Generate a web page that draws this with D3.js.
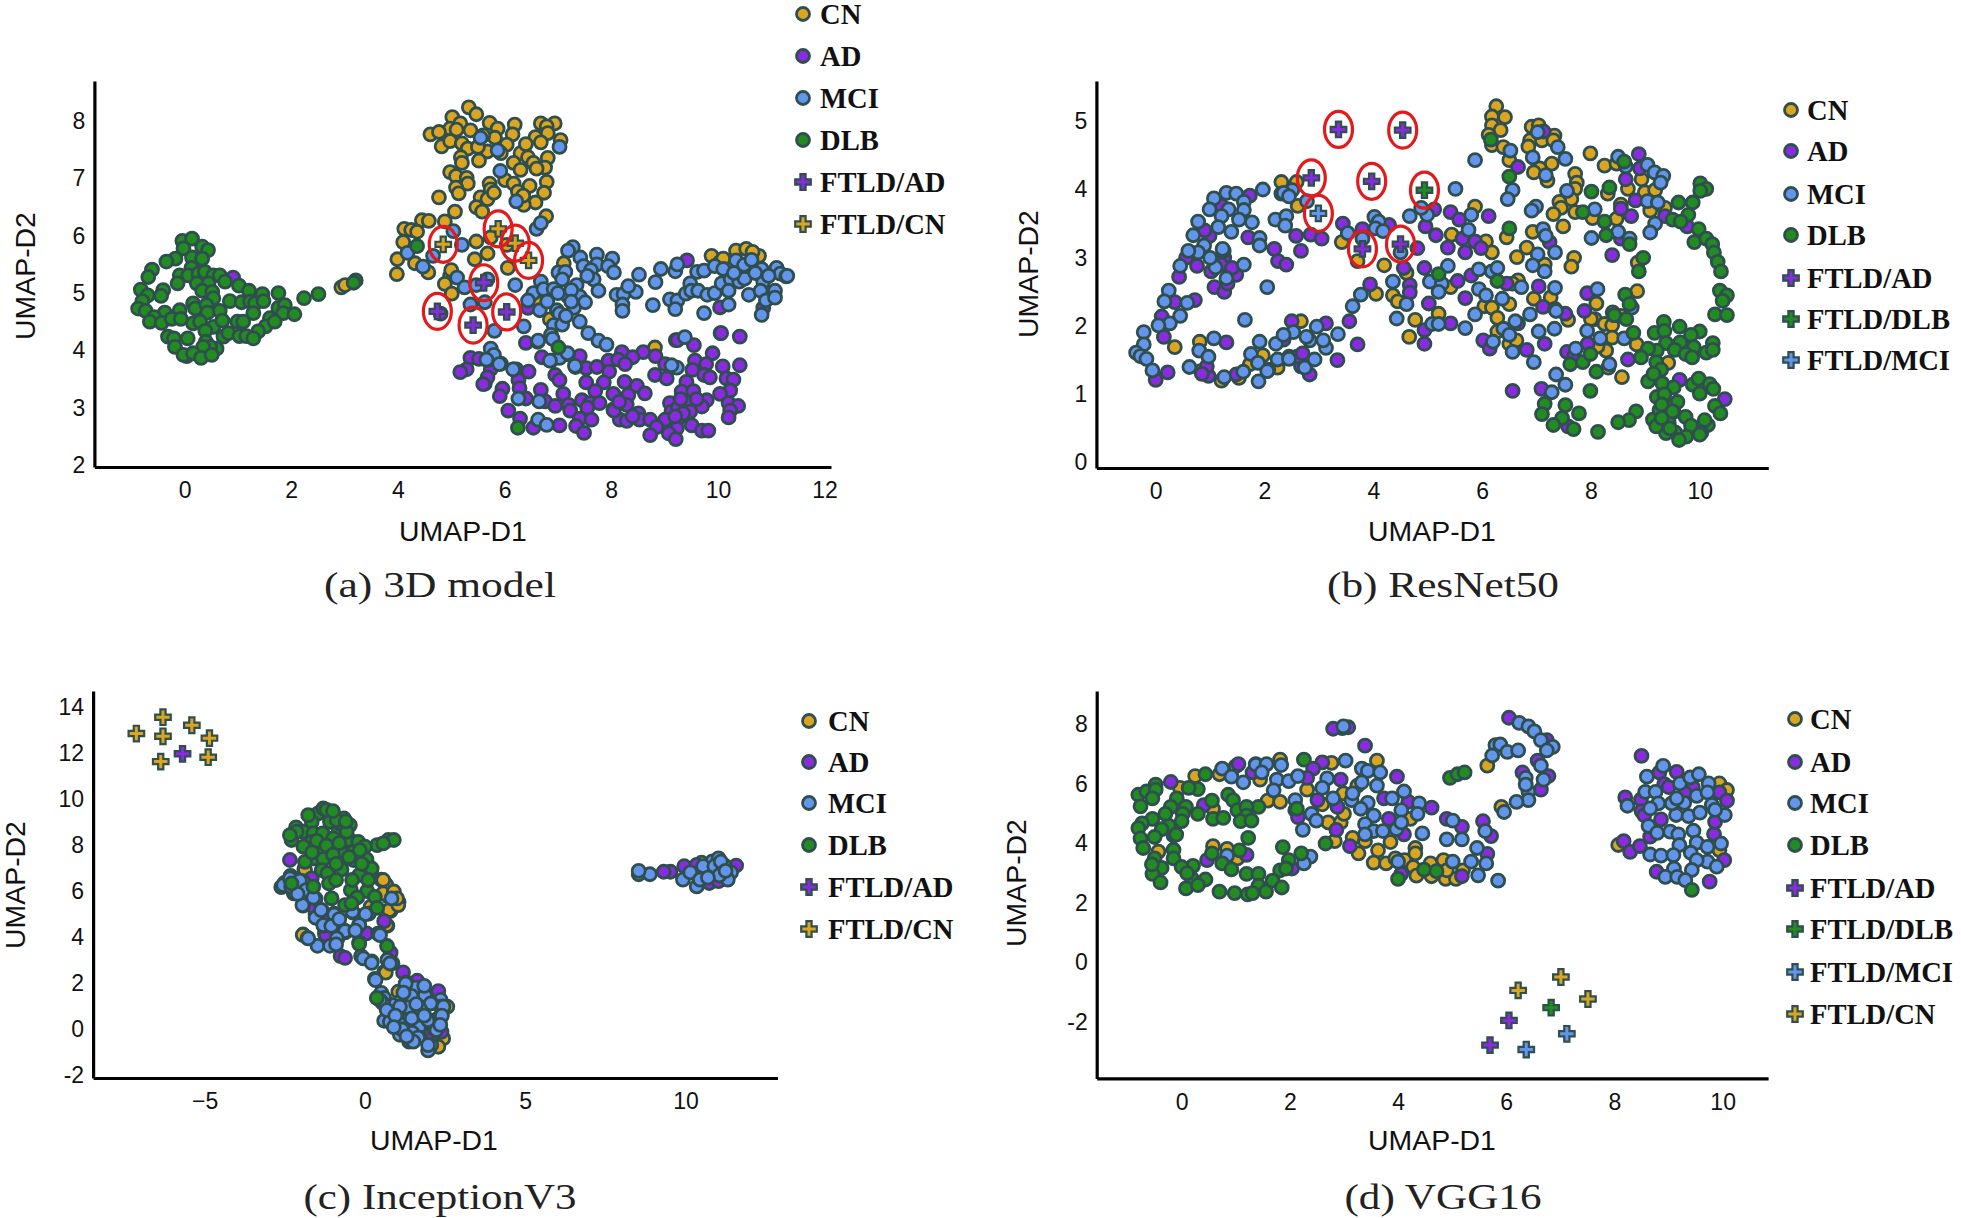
<!DOCTYPE html>
<html><head><meta charset="utf-8">
<script src="https://cdn.jsdelivr.net/npm/d3@7/dist/d3.min.js"></script>
<style>html,body{margin:0;padding:0;background:#fff}svg{display:block}</style>
</head><body><svg id="c" width="1961" height="1218"></svg>
<script>
const colors={CN:"#daa520",AD:"#8a2be2",MCI:"#6495ed",DLB:"#228b22"};
const aCN=[[5.33,8.24],[5.47,8.12],[5.02,8.07],[5.17,7.96],[4.98,7.87],[5.72,7.97],[6.19,7.94],[6.68,7.96],[6.94,7.96],[6.79,7.91],[5.87,7.87],[4.61,7.77],[4.77,7.81],[5.36,7.84],[6.15,7.77],[5.82,7.71],[6.58,7.72],[6.81,7.79],[6.68,7.63],[7.05,7.67],[4.82,7.56],[4.98,7.65],[5.2,7.61],[5.31,7.52],[5.68,7.47],[6.04,7.59],[5.18,7.37],[5.2,7.27],[5.52,7.31],[5.93,7.44],[6.3,7.44],[6.44,7.37],[6.81,7.36],[6.17,7.27],[6.54,7.27],[6.76,7.19],[6.6,7.17],[4.98,7.11],[5.09,7.04],[5.29,7.01],[5.31,6.91],[5.09,6.84],[5.14,6.74],[5.72,6.91],[5.74,6.81],[6.01,6.97],[6.17,6.91],[6.79,6.94],[6.47,6.87],[4.77,6.67],[5.55,6.67],[5.68,6.64],[6.25,6.77],[6.74,6.75],[6.58,6.58],[6.36,6.54],[5.47,6.5],[5.58,6.42],[5.07,6.42],[6.78,6.34],[4.45,6.27],[4.58,6.26],[4.88,6.25],[4.12,6.12],[4.25,6.1],[4.36,6.07],[4.1,5.89],[5.47,5.9],[5.74,5.97],[6.04,5.84],[5.68,5.69],[5.44,5.59],[3.99,5.59],[4.32,5.52],[3.98,5.33],[4.57,5.36],[4.98,5.3],[4.88,5.16],[5.01,4.99],[7.11,5.52],[6.06,5.44],[2.94,5.1],[3.01,5.14],[9.88,5.65],[10.34,5.74],[10.53,5.77],[10.77,5.65],[10.04,5.54],[8.82,4.05],[6.85,4.54],[6.6,4.84],[6.22,3.67],[5.1,7.85],[5.6,7.75],[6.4,7.6],[5.5,7.55],[6.3,7.15],[5.8,6.75],[6.35,6.7],[5.0,5.4],[10.1,5.6],[10.65,5.72]];
const aAD=[[10.05,4.3],[10.41,4.24],[9.21,4.18],[9.55,4.09],[6.4,4.13],[9.9,3.95],[8.6,3.97],[8.2,3.97],[8.4,3.88],[8.83,3.9],[7.41,3.9],[6.7,3.88],[9.57,3.82],[9.78,3.76],[10.09,3.72],[10.41,3.74],[7.95,3.82],[8.13,3.84],[8.26,3.76],[6.45,3.63],[9.01,3.76],[7.53,3.69],[7.73,3.71],[7.96,3.63],[9.52,3.66],[9.74,3.57],[10.16,3.51],[10.29,3.49],[6.95,3.57],[7.03,3.48],[8.82,3.57],[9.04,3.51],[8.25,3.45],[7.53,3.44],[7.86,3.44],[5.63,3.42],[6.26,3.48],[9.85,3.53],[9.41,3.45],[8.48,3.38],[5.96,3.33],[6.28,3.34],[6.68,3.31],[7.7,3.29],[8.63,3.25],[9.32,3.28],[9.54,3.29],[10.23,3.3],[10.04,3.24],[7.1,3.24],[8.04,3.24],[8.32,3.22],[5.91,3.2],[6.4,3.16],[7.45,3.13],[9.41,3.1],[9.79,3.13],[9.1,3.08],[6.76,3.11],[6.95,3.03],[7.2,3.05],[7.6,3.08],[7.78,3.08],[8.29,3.05],[9.7,3.02],[10.2,3.08],[10.38,3.03],[6.07,2.95],[7.23,2.95],[7.55,3.0],[8.04,2.97],[8.51,2.9],[9.13,2.93],[9.48,2.93],[10.23,2.95],[6.29,2.81],[7.41,2.81],[7.63,2.79],[8.16,2.79],[8.29,2.77],[8.53,2.79],[8.73,2.79],[9.01,2.79],[9.26,2.81],[10.2,2.83],[7.03,2.69],[7.34,2.68],[9.51,2.69],[9.7,2.6],[9.82,2.6],[6.54,2.65],[8.85,2.66],[9.23,2.64],[7.49,2.56],[8.73,2.52],[9.08,2.55],[9.21,2.45],[9.42,5.57],[10.04,4.75],[10.85,4.74],[6.44,4.74],[4.8,4.64],[10.06,4.3],[9.24,4.18],[0.91,5.27],[5.36,3.87],[5.52,3.85],[5.29,3.67],[5.17,3.62],[5.74,3.67],[5.68,3.53],[5.6,3.41],[9.25,3.0],[9.35,2.9],[9.3,3.15],[9.6,3.15],[9.2,2.85],[8.05,2.95],[8.15,3.1],[8.4,2.85]];
const aMCI=[[5.55,7.71],[5.87,7.49],[7.03,7.55],[5.92,7.13],[6.22,6.6],[6.6,6.12],[6.68,6.22],[4.18,5.7],[4.47,5.46],[5.04,6.08],[5.2,5.84],[4.66,5.65],[5.11,5.27],[5.25,5.1],[5.68,5.24],[5.47,5.14],[6.2,5.14],[6.68,5.2],[6.54,5.0],[6.44,4.87],[6.66,4.7],[5.36,4.8],[5.63,4.84],[7.28,5.8],[7.19,5.74],[7.42,5.62],[7.73,5.67],[8.02,5.6],[7.48,5.47],[7.73,5.5],[7.94,5.47],[7.01,5.36],[7.14,5.37],[8.05,5.36],[7.62,5.4],[7.08,5.24],[7.67,5.24],[7.35,5.14],[6.73,5.07],[6.92,5.07],[7.76,5.04],[7.19,4.94],[7.41,4.94],[7.51,4.84],[6.98,4.7],[7.03,4.64],[7.3,4.74],[7.41,4.5],[6.92,4.44],[7.08,4.45],[6.87,4.27],[7.57,4.3],[7.76,4.17],[7.91,4.1],[6.36,4.42],[5.81,4.34],[6.62,4.15],[6.9,4.2],[5.74,4.03],[5.79,3.9],[5.93,3.77],[5.68,3.83],[6.17,3.67],[6.87,3.82],[7.19,3.93],[7.03,3.87],[7.33,3.71],[8.52,5.32],[8.1,4.97],[8.23,4.98],[8.46,5.02],[8.32,5.12],[8.21,4.8],[8.21,4.69],[8.78,4.79],[8.83,5.19],[8.93,5.42],[9.2,5.38],[9.24,5.5],[9.1,4.89],[9.24,4.87],[9.2,4.72],[9.4,4.99],[9.48,5.17],[9.5,5.04],[9.63,5.04],[9.61,5.37],[9.74,5.39],[9.8,4.97],[9.74,4.65],[9.94,5.47],[10.1,5.42],[9.94,5.0],[10.07,5.17],[10.2,4.8],[10.24,5.24],[10.2,5.04],[10.34,5.57],[10.49,5.49],[10.63,5.58],[10.4,5.2],[10.58,4.97],[10.82,5.42],[10.85,5.2],[10.8,5.04],[10.9,4.87],[10.82,4.62],[11.1,5.44],[11.07,5.04],[11.07,4.92],[11.17,5.34],[11.28,5.29],[11.3,5.3],[9.38,4.23],[9.23,3.7],[9.13,3.74],[6.65,3.11],[6.26,3.16],[6.63,2.79],[6.79,2.7],[7.32,3.73],[7.18,3.95],[6.85,3.82],[6.63,4.17],[6.16,3.67],[5.8,3.92],[5.9,3.76],[5.66,3.84],[7.0,5.0],[7.25,5.05],[7.55,5.3],[10.5,5.25],[10.7,5.35],[10.3,5.35],[10.95,5.3],[6.8,4.85],[7.15,4.6],[7.25,4.85]];
const aDLB=[[-0.04,5.91],[0.14,5.95],[0.33,5.81],[0.44,5.75],[-0.02,5.78],[-0.17,5.6],[-0.34,5.55],[0.14,5.62],[0.33,5.6],[0.13,5.44],[-0.61,5.41],[-0.68,5.28],[-0.09,5.31],[0.07,5.31],[0.26,5.34],[0.38,5.37],[0.54,5.31],[0.66,5.31],[-0.13,5.17],[0.23,5.17],[0.45,5.17],[0.76,5.2],[1.02,5.13],[1.21,5.04],[1.46,4.98],[1.76,5.0],[-0.82,5.06],[-0.4,5.05],[-0.69,4.96],[-0.44,4.95],[0.33,5.04],[0.52,5.02],[0.54,4.91],[-0.79,4.86],[-0.87,4.73],[-0.73,4.69],[0.16,4.82],[0.2,4.73],[0.41,4.79],[0.85,4.86],[1.07,4.84],[1.23,4.85],[1.32,4.82],[1.48,4.86],[0.66,4.69],[0.43,4.66],[-0.37,4.66],[-0.09,4.7],[-0.57,4.58],[-0.65,4.5],[-0.43,4.48],[-0.24,4.55],[-0.07,4.55],[0.16,4.47],[0.29,4.5],[0.54,4.41],[0.71,4.52],[0.99,4.5],[1.1,4.5],[1.29,4.65],[1.6,4.56],[1.76,4.74],[1.88,4.79],[1.85,4.65],[2.06,4.63],[1.52,4.42],[1.38,4.33],[1.69,4.5],[-0.31,4.24],[-0.2,4.21],[0.06,4.21],[0.39,4.34],[0.4,4.15],[0.73,4.24],[0.82,4.3],[1.03,4.25],[1.16,4.25],[1.29,4.21],[-0.18,4.06],[0.6,4.03],[0.48,4.06],[0.35,4.06],[0.04,3.9],[-0.02,3.92],[0.16,3.95],[0.31,3.87],[0.51,3.92],[2.24,4.91],[2.51,4.98],[3.21,5.22],[3.17,5.18],[4.36,5.82],[7.01,4.05],[6.25,2.65]];
const aFtldAD=[[4.74,4.68],[5.41,4.44],[5.61,5.18],[6.04,4.67]];
const aFtldCN=[[4.85,5.85],[5.88,6.12],[6.2,5.87],[6.45,5.57]];
const bCN=[[6.26,5.22],[6.18,5.07],[6.42,5.06],[6.18,4.94],[6.34,4.87],[6.12,4.8],[6.18,4.65],[6.39,4.62],[6.5,4.43],[6.91,4.92],[7.04,4.94],[6.88,4.72],[6.85,4.63],[7.1,4.72],[7.33,4.79],[7.31,4.72],[7.28,4.38],[7.06,4.31],[6.95,4.25],[7.2,4.13],[7.99,4.53],[8.25,4.35],[8.47,4.38],[7.71,4.23],[7.74,4.1],[7.71,4.01],[7.64,3.86],[7.42,3.82],[7.45,3.73],[7.31,3.64],[7.49,3.46],[7.71,3.67],[8.03,3.58],[8.31,3.94],[8.55,3.78],[8.47,3.57],[8.68,4.01],[8.93,4.15],[8.99,3.96],[9.18,3.99],[9.09,3.69],[9.36,3.73],[8.86,2.93],[8.85,2.51],[8.1,2.33],[8.07,2.1],[8.25,2.03],[8.39,2.01],[8.39,1.83],[8.28,1.64],[8.84,1.73],[8.57,1.25],[8.32,1.39],[9.42,1.46],[6.93,3.38],[6.45,3.3],[6.82,3.15],[6.64,3.01],[7.69,3.0],[7.64,2.87],[5.87,3.75],[6.07,3.24],[6.18,3.08],[5.44,3.34],[4.77,2.09],[5.2,2.18],[4.66,1.84],[4.36,2.45],[4.45,2.36],[4.05,2.47],[4.2,2.89],[4.61,2.78],[3.42,3.23],[3.71,2.95],[2.61,3.76],[2.31,4.11],[2.59,4.11],[2.67,2.07],[0.35,1.69],[0.81,1.77],[1.97,1.57],[2.24,1.39],[2.07,1.36],[1.53,1.24],[1.21,1.2],[0.83,1.34],[1.73,1.44],[6.66,2.67],[6.56,2.62],[5.42,2.57],[6.95,2.4],[7.26,2.42],[7.58,2.09],[6.04,2.29],[6.18,2.27],[6.5,2.32],[6.28,2.12],[6.28,1.92],[6.5,1.74],[6.63,1.79],[7.15,2.9],[8.4,2.2],[8.55,2.15],[8.0,2.1],[8.12,1.7]];
const bAD=[[8.88,4.52],[8.9,4.31],[8.64,4.15],[8.82,3.84],[8.55,3.72],[8.74,3.61],[6.66,4.33],[7.13,4.85],[7.24,3.23],[8.39,3.04],[9.36,3.61],[9.77,3.46],[6.12,3.61],[5.42,3.67],[5.58,3.56],[5.12,3.71],[5.15,3.33],[4.96,3.46],[4.81,3.14],[4.56,2.85],[4.94,2.85],[4.67,2.6],[4.67,2.49],[3.94,2.61],[5.02,2.33],[5.55,2.66],[5.8,2.74],[5.69,2.41],[5.37,3.15],[5.64,3.28],[5.87,3.24],[5.98,3.14],[5.69,3.08],[4.29,3.48],[3.44,3.5],[3.8,3.42],[2.85,3.34],[3.05,3.28],[2.58,3.32],[2.67,3.1],[2.18,3.13],[2.25,2.95],[2.4,2.9],[1.7,3.3],[1.73,3.91],[1.21,3.76],[0.99,3.32],[0.56,3.0],[0.43,2.72],[0.76,2.88],[1.02,2.8],[1.26,3.0],[1.48,2.75],[1.08,2.57],[1.26,2.5],[1.32,2.62],[0.35,2.35],[0.72,2.38],[0.11,2.14],[0.15,1.84],[1.3,1.76],[2.5,2.07],[3.13,2.04],[3.56,2.07],[3.71,1.73],[3.34,1.5],[4.94,1.74],[4.94,1.94],[5.42,2.04],[6.56,1.05],[7.09,1.08],[9.63,1.21],[10.46,0.93],[7.58,0.53],[2.67,1.41],[2.83,1.29],[0.22,1.32],[0,1.21],[0.97,1.27],[1.48,1.29],[0.94,1.41],[6.02,1.79],[6.14,1.67],[6.82,1.65],[7.15,1.74],[7.12,2.28],[7.53,2.18],[7.88,2.22],[7.93,2.48],[7.04,2.58],[6.45,2.62],[6.66,2.04],[7.56,1.62],[7.69,1.56],[7.94,1.74],[8.68,1.51],[8.55,3.28],[1.2,2.9],[0.9,3.4],[1.4,2.85],[2.45,1.55],[2.6,1.55],[2.7,1.6],[2.35,1.8],[1.25,3.1],[0.85,1.3]];
const bMCI=[[5.87,4.43],[5.51,4.01],[6.52,4.57],[7.02,4.84],[7.39,4.62],[7.53,4.45],[6.93,4.47],[7.17,4.21],[6.56,3.99],[6.47,3.86],[6.99,3.75],[6.91,3.69],[7.56,3.98],[8.07,3.71],[7.12,3.42],[7.17,3.32],[8.01,3.29],[8.5,3.38],[8.71,3.28],[8.5,4.48],[8.64,4.34],[9.04,4.36],[9.17,4.25],[9.33,4.2],[9.28,4.1],[9.04,3.83],[9.23,3.81],[9.18,3.5],[9.09,3.37],[7.02,3.05],[7.34,3.08],[6.93,2.89],[7.15,2.8],[7.34,2.56],[8.12,2.54],[7.34,2.25],[7.36,2.22],[6.88,2.17],[7.33,1.96],[7.04,1.92],[6.61,2.07],[6.39,1.96],[6.5,1.87],[6.2,1.77],[6.56,1.62],[6.95,1.47],[7.72,1.67],[7.93,1.93],[8.17,1.82],[8.61,1.82],[8.75,2.27],[8.34,1.44],[7.36,1.29],[7.53,1.14],[7.28,1.03],[5.8,3.63],[5.75,3.41],[5.94,2.83],[6.18,2.8],[6.28,2.85],[5.94,2.54],[6.07,2.45],[6.37,2.4],[6.72,2.57],[5.87,2.17],[5.69,1.97],[5.37,2.88],[5.04,2.65],[5.26,2.62],[5.2,2.5],[4.61,2.32],[4.36,2.65],[4.43,2.11],[5.08,2.03],[5.2,2.03],[3.77,2.46],[3.62,2.29],[4.67,3.61],[4.99,3.63],[4.88,3.73],[4.02,3.6],[4.1,3.53],[4.04,3.43],[4.18,3.39],[3.53,3.36],[3.8,3.28],[4.5,3.08],[1.97,4.0],[2.31,3.94],[2.51,3.99],[2.78,3.83],[1.3,3.95],[1.48,3.94],[1.07,3.87],[1.62,3.82],[0.99,3.71],[1.34,3.71],[1.62,3.7],[0.78,3.53],[1.21,3.61],[1.53,3.56],[1.77,3.52],[2.2,3.56],[2.4,3.61],[2.38,3.47],[1.39,3.38],[0.69,3.33],[1.91,3.29],[0.89,3.18],[1.91,3.18],[1.23,3.13],[0.78,3.08],[0.45,2.88],[1.1,2.86],[1.62,2.9],[1.3,2.7],[2.05,2.57],[0.24,2.52],[0.16,2.36],[0.58,2.34],[0.45,2.15],[0.26,2.04],[0.05,2.01],[-0.22,1.91],[1.64,2.09],[-0.22,1.73],[-0.36,1.61],[-0.28,1.56],[-0.17,1.52],[-0.06,1.35],[0.62,1.4],[1.07,1.82],[0.8,1.64],[0.97,1.55],[1.26,1.25],[1.61,1.33],[1.89,1.19],[1.91,1.77],[1.75,1.59],[1.88,1.46],[2.05,1.34],[2.21,1.74],[2.24,1.51],[2.45,1.52],[2.53,1.91],[2.35,1.87],[2.83,1.79],[2.77,1.84],[2.74,1.39],[2.92,1.51],[2.96,1.99],[3.13,1.68],[3.35,1.88],[3.08,1.79],[2.35,3.95],[2.45,3.9],[1.15,3.45],[1.0,3.0],[0.6,3.1]];
const bDLB=[[6.16,4.73],[6.5,4.19],[8.61,4.41],[8.01,3.97],[8.34,4.03],[7.85,3.67],[8.25,3.53],[8.28,3.33],[8.71,3.2],[6.5,3.43],[8.96,3.0],[8.88,2.8],[5.2,2.76],[6.28,2.66],[10.01,4.09],[10.12,4.01],[10.01,3.98],[9.87,3.81],[9.61,3.81],[9.79,3.63],[9.5,3.56],[9.65,3.53],[9.98,3.42],[9.9,3.23],[10.12,3.28],[10.23,3.2],[10.26,3.08],[10.33,2.94],[10.39,2.8],[10.37,2.52],[10.5,2.45],[10.42,2.37],[10.28,2.17],[10.5,2.16],[8.63,2.46],[8.71,2.32],[8.42,2.16],[8.43,2.16],[8.65,2.1],[9.34,2.06],[9.63,1.99],[9.17,1.9],[9.35,1.93],[10.0,1.92],[9.84,1.87],[8.78,1.9],[9.38,1.75],[9.64,1.76],[10.24,1.75],[9.89,1.69],[9.21,1.64],[9.05,1.67],[9.54,1.65],[9.74,1.59],[10.12,1.61],[10.24,1.65],[9.86,1.54],[8.92,1.54],[7.62,1.44],[7.85,1.47],[7.99,1.59],[9.2,1.47],[9.29,1.36],[8.1,1.33],[9.05,1.19],[9.31,1.16],[9.52,1.1],[9.87,1.14],[9.98,1.23],[10.18,1.15],[10.25,1.08],[10.0,1.01],[7.99,1.05],[9.21,0.96],[9.59,0.89],[9.37,0.84],[10.28,0.83],[7.53,0.84],[7.78,0.72],[8.83,0.75],[10.38,0.72],[7.47,0.65],[7.31,0.55],[7.68,0.49],[8.13,0.45],[8.7,0.62],[8.5,0.59],[9.14,0.63],[9.52,0.74],[9.74,0.67],[9.43,0.58],[9.84,0.54],[10.15,0.55],[10.09,0.62],[9.55,0.44],[9.75,0.38],[9.62,0.33],[10.03,0.44],[9.38,0.43],[9.26,0.77],[9.2,0.53],[10.0,0.41],[9.15,1.3],[9.35,1.0],[9.3,0.85],[9.5,0.75],[9.3,0.65],[9.45,0.5],[7.15,0.86],[7.1,0.71]];
const bFtldAD=[[3.36,4.88],[4.54,4.87],[2.86,4.17],[3.97,4.12],[3.8,3.13],[4.5,3.2]];
const bFtldDLB=[[4.94,3.99]];
const bFtldMCI=[[2.99,3.65]];
const cCN=[[0.51,6.52],[0.66,6.3],[0.74,5.77],[0.8,5.16],[1.05,5.54],[-1.89,6.98],[0.7,4.51],[-1.93,4.13],[1.09,1.59],[0.6,2.5],[2.26,-0.3],[0.18,5.34],[-2.22,5.92],[10.5,7.25],[-1.87,6.96],[0.57,6.5],[0.57,5.92],[0.76,5.19],[1.04,5.41],[0.68,4.54],[-1.94,4.11],[0.9,6.0],[1.0,5.7],[1.04,1.64],[0.65,2.47],[2.44,-0.39],[2.29,-0.75],[2.57,0.99]];
const cAD=[[-2.34,7.37],[-1.66,6.57],[0.6,4.71],[-1.54,5.0],[-1.25,4.17],[0.05,4.18],[-0.76,3.19],[-0.62,3.11],[0.8,3.34],[1.19,2.48],[1.63,2.12],[2.29,1.67],[1.38,1.44],[2.39,-0.1],[1.97,-0.17],[1.38,-0.53],[9.53,6.86],[9.32,6.86],[9.96,7.1],[10.35,7.16],[10.74,6.37],[11.58,7.13],[11.03,6.45],[-1.22,4.11],[-1.61,5.34],[-1.3,5.0],[-1.0,4.5]];
const cMCI=[[-2.32,6.68],[-2.51,6.37],[-2.61,6.19],[-2.22,5.99],[-1.93,6.45],[-1.83,6.07],[-1.54,5.69],[-1.93,5.39],[-1.35,5.19],[-0.96,5.04],[-1.54,4.86],[-1.29,4.51],[-0.66,4.32],[-0.37,5.08],[0.12,5.04],[-0.18,4.55],[-0.62,4.22],[-0.86,3.95],[-1.79,3.98],[-1.48,3.64],[-1.09,3.64],[-0.18,3.79],[0.41,4.17],[-0.12,3.19],[0.21,2.96],[0.7,3.03],[0.86,2.88],[0.31,2.2],[1.29,2.05],[1.58,1.82],[1.87,1.52],[2.36,1.29],[0.51,1.59],[0.66,1.06],[1.09,1.21],[1.38,1.44],[1.33,0.99],[2.07,1.14],[2.36,0.99],[1.72,0.83],[1.38,0.53],[2.26,0.46],[0.6,0.38],[0.8,0.33],[1.09,0.23],[1.97,0.3],[1.19,0],[1.68,0.08],[2.16,0],[1.09,-0.23],[1.48,-0.15],[1.72,-0.35],[2.26,0.15],[2.07,-0.68],[1.97,-0.91],[0.86,1.06],[0.6,1.37],[0.83,5.7],[-2.55,6.28],[-2.34,6.57],[-2.03,6.47],[-1.84,6.06],[-1.61,5.73],[-1.95,5.41],[-1.37,5.19],[-0.96,5.0],[-1.3,4.54],[-0.39,5.12],[0.02,5.02],[-0.18,4.54],[-0.62,4.28],[0.45,4.18],[-0.88,3.96],[-1.77,3.96],[0.47,4.1],[-0.05,3.09],[0.21,2.9],[0.78,2.87],[0.33,2.15],[1.27,2.0],[1.45,1.46],[1.87,1.49],[2.05,1.13],[1.35,0.96],[1.71,0.91],[0.78,0.33],[1.46,0.48],[1.97,0.41],[1.16,0],[2.34,0.48],[1.66,-0.35],[1.97,-0.68],[0.57,1.13],[0.47,1.28],[0.68,0.84],[2.23,-0.03],[1.51,-0.53],[1.09,0.99],[2.45,1.0],[2.4,0.6],[2.35,0.2],[1.2,1.6],[0.95,0.6],[0.9,0.1],[1.3,-0.3],[1.85,1.9],[1.6,1.1],[1.85,0.6],[-1.05,4.5],[-0.8,4.8],[-0.3,4.3],[-0.9,3.7],[-2.3,6.2],[-2.1,5.9],[8.54,6.75],[8.89,6.75],[8.54,6.9],[9.92,6.52],[10.15,6.83],[10.35,6.22],[10.84,7.31],[11.03,7.44],[11.22,7.13],[11.19,6.71],[11.42,6.83],[10.64,6.9],[10.45,6.52],[10.94,6.9],[10.55,7.1],[11.32,6.52],[10.9,7.1],[11.1,7.3],[11.05,6.7],[10.7,6.6],[11.25,6.9]];
const cDLB=[[-1.46,9.4],[-1.66,9.03],[-1.04,9.28],[-0.66,9.18],[-0.83,8.74],[-0.47,8.89],[-2.15,8.79],[-1.92,8.6],[-2.29,8.24],[-1.61,8.53],[-1.32,8.53],[-1.66,8.16],[-0.99,8.31],[-0.47,8.24],[-0.21,8.16],[0.38,8.02],[0.73,8.24],[0.9,8.24],[-1.92,7.95],[-1.4,7.87],[-0.75,7.76],[0,7.95],[-0.36,7.73],[-1.61,7.44],[-1.3,7.41],[-1.87,7.29],[0.05,7.4],[-0.36,7.37],[0.21,7.0],[-1.35,6.93],[-0.73,6.96],[-1.17,6.79],[-0.18,6.71],[-2.29,6.35],[-1.61,6.21],[-1.12,6.35],[-0.44,6.06],[0.07,6.02],[0.31,5.77],[-1.04,5.7],[-0.24,5.74],[-0.62,5.41],[-0.42,5.48],[0.38,5.29],[-2.13,8.6],[-2.34,8.45],[-1.09,9.03],[-0.78,8.96],[-0.88,9.1],[-1.3,9.61],[-1.77,9.32],[-0.57,8.6],[-0.16,7.8],[0.57,8.09],[-0.18,3.72],[0.69,3.63],[0.37,1.37],[-1.2,9.55],[-1.0,9.5],[-0.6,9.05],[-1.5,8.2],[-1.2,8.0],[-0.8,8.1],[-0.5,7.5],[-1.0,7.6],[-1.65,7.7],[-0.9,7.2],[-0.1,7.2],[-0.4,6.5],[-0.9,6.5],[0.1,6.5]];
const cFtldAD=[[-5.69,11.99]];
const cFtldCN=[[-7.13,12.87],[-6.3,13.58],[-6.3,12.75],[-5.4,13.23],[-4.85,12.67],[-4.89,11.84],[-6.37,11.65]];
const dCN=[[0.25,6.27],[1.82,6.82],[1.37,6.67],[2.77,6.71],[3.61,6.79],[-0.03,5.87],[0.7,6.33],[1.45,6.15],[2.32,5.81],[1.59,5.44],[1.82,5.4],[2.99,5.69],[2.6,5.32],[0.58,5.17],[5.65,6.62],[5.91,5.23],[2.71,4.71],[2.94,4.71],[2.83,4.08],[3.16,4.19],[3.27,3.67],[3.39,4.08],[3.63,3.77],[3.86,4.05],[3.55,3.36],[3.78,3.33],[3.95,3.5],[4.12,3.44],[4.32,3.85],[4.32,3.67],[4.28,3.21],[4.34,2.92],[4.6,3.33],[4.62,2.9],[4.88,2.81],[4.84,3.44],[5.07,2.81],[4.23,4.83],[-0.43,3.73],[0.58,3.91],[0.84,3.82],[1.03,3.5],[9.94,6.02],[10.08,5.8],[9.94,3.78],[8.07,3.95],[1.0,6.6],[3.0,5.0],[3.25,5.95],[4.9,3.1],[5.2,3.1]];
const dAD=[[2.97,7.88],[2.8,7.86],[3.08,7.91],[3.39,7.29],[6.05,8.23],[6.75,7.48],[6.58,6.79],[6.78,6.27],[6.64,5.81],[6.3,6.39],[-0.2,6.07],[1.05,6.67],[1.31,6.39],[2.6,6.73],[2.43,6.52],[2.32,6.21],[2.94,6.15],[3.98,6.25],[2.51,5.46],[3.74,5.52],[2.88,5.23],[2.1,5.12],[2.15,4.89],[2.86,4.46],[3.11,3.91],[4.19,5.4],[4.62,5.21],[3.83,4.83],[4.11,4.31],[4.9,4.83],[5.18,4.56],[5.57,4.75],[5.72,4.25],[5.65,3.65],[5.18,2.9],[4.06,2.98],[-0.15,4.27],[0.47,3.44],[1.2,3.62],[0.41,5.29],[2.04,3.16],[8.5,6.95],[8.83,6.39],[9.15,6.41],[8.92,6.0],[9.45,5.89],[9.94,5.72],[10.08,5.44],[8.2,5.55],[8.49,5.48],[8.5,5.09],[8.86,4.81],[8.66,4.23],[9.84,4.32],[8.17,4.08],[8.29,3.72],[8.47,3.91],[9.76,2.72],[8.78,3.05],[10.03,3.44],[9.86,4.73],[9.0,5.9],[9.3,5.7],[8.55,4.95]];
const dMCI=[[2.99,7.94],[3.03,6.79],[0.75,6.52],[0.92,6.25],[1.14,6.06],[1.37,6.65],[1.57,6.67],[1.84,6.64],[1.48,6.39],[1.76,6.15],[1.98,6.1],[2.15,6.27],[2.69,6.19],[3.33,6.52],[3.44,6.44],[3.33,6.06],[3.67,6.39],[3.61,5.95],[1.7,5.79],[2.1,5.46],[2.6,5.87],[2.8,5.52],[3.14,5.46],[3.44,5.37],[3.16,5.69],[3.89,5.52],[4.11,5.75],[4.39,5.35],[4.06,5.12],[4.36,5.0],[3.55,4.94],[3.31,5.17],[2.4,5.0],[2.49,4.77],[2.24,4.46],[3.39,4.65],[3.55,4.42],[3.72,4.42],[3.97,4.48],[3.39,4.31],[4.06,4.71],[4.45,4.34],[4.9,4.14],[5.01,4.77],[5.18,4.14],[5.46,3.85],[5.35,3.39],[5.01,3.39],[5.63,3.33],[5.61,4.42],[5.85,2.75],[5.48,2.93],[4,3.39],[2.38,3.56],[2.26,3.33],[0.84,3.59],[6.24,8.06],[6.41,7.94],[6.52,7.77],[6.64,7.48],[6.86,7.25],[6.75,7.13],[5.8,7.31],[5.89,7.33],[5.74,6.96],[6.02,7.08],[6.22,7.13],[6.64,6.62],[6.36,6.21],[6.69,6.15],[6.41,5.75],[6.36,5.98],[6.41,5.46],[6.19,5.4],[5.96,5.06],[8.9,6.61],[8.6,6.25],[9.21,6.02],[9.4,6.22],[9.56,6.33],[9.74,6.02],[9.52,5.6],[9.72,5.72],[8.57,5.74],[8.76,5.74],[8.81,5.35],[8.66,5.18],[8.24,5.27],[9.29,5.37],[9.14,4.96],[9.37,4.92],[9.58,5.04],[9.8,5.3],[10.04,4.96],[8.63,4.59],[8.79,4.36],[9.03,4.4],[9.18,4.31],[9.46,4.43],[9.2,3.95],[9.52,4.03],[9.72,3.89],[9.97,4.0],[9.41,3.69],[8.66,3.63],[8.86,3.59],[9.09,3.61],[9.72,3.39],[9.52,3.44],[9.89,3.22],[9.1,3.16],[9.43,3.11],[8.94,2.88],[9.16,2.88],[9.31,2.77],[9.86,5.13],[9.06,5.35],[9.15,5.52]];
const dDLB=[[2.26,6.82],[4.96,6.21],[5.1,6.33],[5.23,6.39],[0.44,6.33],[-0.48,5.98],[0.3,5.83],[0.13,5.87],[-0.8,5.64],[-0.65,5.75],[-0.48,5.81],[-0.54,5.52],[-0.09,5.52],[0.86,5.64],[0.95,5.46],[0.56,5.44],[-0.76,5.25],[-0.2,5.23],[0.08,5.23],[1.03,5.12],[1.42,5.23],[1.2,5.23],[0.02,5.0],[0.3,5.0],[1.2,4.94],[-0.54,4.83],[0.58,4.83],[0.77,4.86],[0,4.75],[1.09,4.75],[1.29,4.77],[-0.73,4.68],[-0.8,4.52],[-0.24,4.6],[-0.37,4.48],[-0.5,4.22],[-0.76,4.17],[1.23,4.19],[-0.71,3.85],[-0.15,3.79],[1.87,3.88],[0.56,3.67],[1.07,3.77],[-0.5,3.5],[-0.15,3.5],[0.75,3.33],[2.21,3.67],[2.66,4.0],[1.98,3.44],[0.21,3.25],[-0.37,3.18],[0.92,3.13],[0,3.21],[-0.54,2.98],[1.2,2.98],[1.42,2.98],[1.82,3.1],[1.93,3.16],[0.19,2.81],[0.44,2.79],[1.68,2.75],[-0.39,2.69],[0.08,2.49],[0.3,2.6],[0.7,2.38],[0.98,2.33],[1.42,2.58],[1.85,2.52],[1.22,2.29],[1.31,2.33],[1.56,2.38],[4.0,2.81],[4.48,3.12],[4.71,3.07],[2.13,5.17],[9.43,2.44],[-0.3,5.0],[-0.1,4.3],[-0.55,3.3],[0.1,3.0]];
const dFtldAD=[[6.05,-1.95],[5.7,-2.78]];
const dFtldDLB=[[6.83,-1.52]];
const dFtldMCI=[[7.12,-2.4],[6.37,-2.93]];
const dFtldCN=[[7.01,-0.49],[6.22,-0.94],[7.51,-1.23]];
const aTicksX=[0,2,4,6,8,10,12], aTicksY=[2,3,4,5,6,7,8];
const bTicksX=[0,2,4,6,8,10], bTicksY=[0,1,2,3,4,5];
const cTicksX=[-5,0,5,10], cTicksY=[-2,0,2,4,6,8,10,12,14];
const dTicksX=[0,2,4,6,8,10], dTicksY=[-2,0,2,4,6,8];
const panels=[
 {cap:"(a) 3D model",capW:232,capX:440,capY:597,box:[94.4,831,81,467],xd:[-1.69,12.12],yd:[1.965,8.7],tx:aTicksX,ty:aTicksY,
  xl:[463,541],yl:[26,276],leg:{x:803,t:820,ys:[14,56,98,140,182,224],names:["CN","AD","MCI","DLB","FTLD/AD","FTLD/CN"]},
  circles:{CN:aCN,AD:aAD,MCI:aMCI,DLB:aDLB},crosses:[["AD",aFtldAD],["CN",aFtldCN]],rings:aFtldAD.concat(aFtldCN)},
 {cap:"(b) ResNet50",capW:232,capX:1443,capY:597,box:[1096.4,1768.3,81,468],xd:[-1.09,11.26],yd:[-0.08,5.59],tx:bTicksX,ty:bTicksY,
  xl:[1432,541],yl:[1029,274],leg:{x:1791,t:1807,ys:[110,151,194,235,278,319,360],names:["CN","AD","MCI","DLB","FTLD/AD","FTLD/DLB","FTLD/MCI"]},
  circles:{CN:bCN,AD:bAD,MCI:bMCI,DLB:bDLB},crosses:[["AD",bFtldAD],["DLB",bFtldDLB],["MCI",bFtldMCI]],rings:bFtldAD.concat(bFtldDLB,bFtldMCI)},
 {cap:"(c) InceptionV3",capW:273,capX:440,capY:1209,box:[93.1,777.5,691,1078],xd:[-8.48,12.87],yd:[-2.11,14.72],tx:cTicksX,ty:cTicksY,
  xl:[434,1150],yl:[16,885],leg:{x:809,t:828,ys:[721,762,803,845,887,929],names:["CN","AD","MCI","DLB","FTLD/AD","FTLD/CN"]},
  circles:{CN:cCN,AD:cAD,MCI:cMCI,DLB:cDLB},crosses:[["AD",cFtldAD],["CN",cFtldCN]],rings:[]},
 {cap:"(d) VGG16",capW:197,capX:1443,capY:1209,box:[1096.7,1768.1,691,1078.4],xd:[-1.57,10.84],yd:[-3.9,9.13],tx:dTicksX,ty:dTicksY,
  xl:[1432,1150],yl:[1017,883],leg:{x:1795,t:1810,ys:[719,762,803,845,888,929,972,1014],names:["CN","AD","MCI","DLB","FTLD/AD","FTLD/DLB","FTLD/MCI","FTLD/CN"]},
  circles:{CN:dCN,AD:dAD,MCI:dMCI,DLB:dDLB},crosses:[["AD",dFtldAD],["DLB",dFtldDLB],["MCI",dFtldMCI],["CN",dFtldCN]],rings:[]}
];
const edge="#2f4f4f";
const sans="'Liberation Sans',Arial,sans-serif";
const svg=d3.select("#c");
const crossPath=d3.symbol().type(d3.symbolCross).size(135)();
panels.forEach(p=>{
  const [l,r,t,b]=p.box;
  const x=d3.scaleLinear().domain(p.xd).range([l,r]);
  const y=d3.scaleLinear().domain(p.yd).range([b,t]);
  const g=svg.append("g");
  const ax=g.append("g").attr("transform",`translate(0,${b})`).call(d3.axisBottom(x).tickValues(p.tx).tickFormat(d=>String(d).replace("-","\u2212")).tickSize(0).tickPadding(15));
  const ay=g.append("g").attr("transform",`translate(${l},0)`).call(d3.axisLeft(y).tickValues(p.ty).tickFormat(d=>String(d)).tickSize(0).tickPadding(9));
  [ax,ay].forEach(a=>{a.select(".domain").attr("stroke","#000").attr("stroke-width",3.2);
    a.selectAll("text").attr("font-family",sans).attr("font-size",23).attr("fill","#111");});
  g.append("text").attr("x",p.xl[0]).attr("y",p.xl[1]).attr("text-anchor","middle").attr("font-family",sans).attr("font-size",28.4).attr("fill","#111").text("UMAP-D1");
  g.append("text").attr("transform",`translate(${p.yl[0]+9},${p.yl[1]}) rotate(-90)`).attr("text-anchor","middle").attr("font-family",sans).attr("font-size",28.4).attr("fill","#111").text("UMAP-D2");
  Object.keys(p.circles).forEach(k=>{
    g.append("g").selectAll("circle").data(p.circles[k]).join("circle")
     .attr("cx",d=>x(d[0])).attr("cy",d=>y(d[1])).attr("r",6.5)
     .attr("fill",colors[k]).attr("stroke",edge).attr("stroke-width",2.8);
  });
  p.crosses.forEach(([k,arr])=>{
    g.append("g").selectAll("path").data(arr).join("path")
     .attr("d",crossPath).attr("transform",d=>`translate(${x(d[0])},${y(d[1])})`)
     .attr("fill",colors[k]).attr("stroke",edge).attr("stroke-width",2.2);
  });
  g.append("g").selectAll("ellipse").data(p.rings).join("ellipse")
   .attr("cx",d=>x(d[0])).attr("cy",d=>y(d[1])).attr("rx",14).attr("ry",18)
   .attr("fill","none").attr("stroke","#e31a1c").attr("stroke-width",3.2);
  const lg=g.append("g");
  p.leg.names.forEach((n,i)=>{
    const yy=p.leg.ys[i];
    if(n.startsWith("FTLD")){
      lg.append("path").attr("d",crossPath).attr("transform",`translate(${p.leg.x},${yy})`)
        .attr("fill",colors[n.split("/")[1]]).attr("stroke",edge).attr("stroke-width",2.2);
    } else {
      lg.append("circle").attr("cx",p.leg.x).attr("cy",yy).attr("r",6.5)
        .attr("fill",colors[n]).attr("stroke",edge).attr("stroke-width",2.8);
    }
    lg.append("text").attr("x",p.leg.t).attr("y",yy).attr("dy","0.34em")
      .attr("font-family","'Liberation Serif',serif").attr("font-weight","bold").attr("font-size",28.6).attr("fill","#111").text(n);
  });
  g.append("text").attr("x",p.capX).attr("y",p.capY).attr("text-anchor","middle")
    .attr("font-family","'Liberation Serif',serif").attr("font-size",36).attr("fill","#222")
    .attr("textLength",p.capW).attr("lengthAdjust","spacingAndGlyphs").text(p.cap);
});
</script></body></html>
